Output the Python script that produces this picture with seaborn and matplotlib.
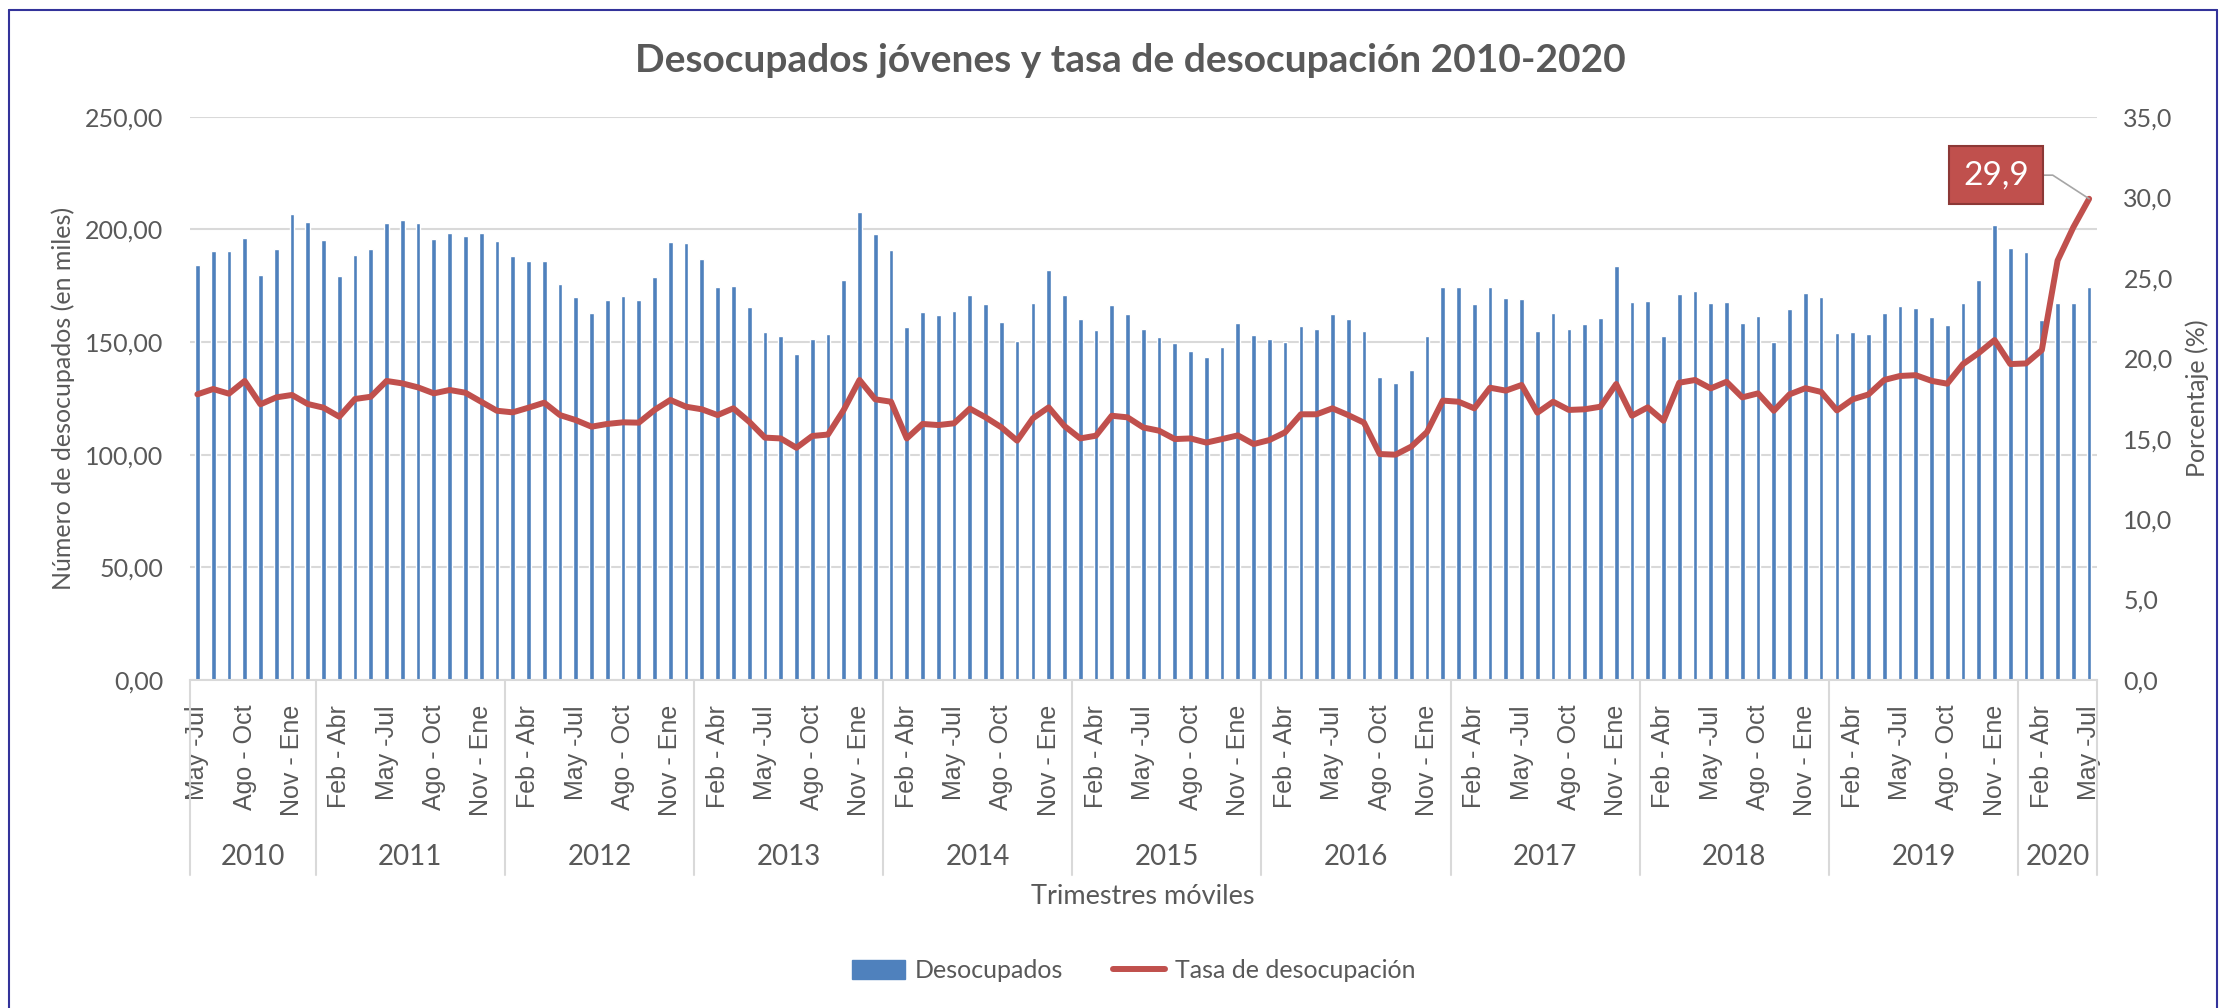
import numpy as np
import pandas as pd
import matplotlib
matplotlib.use("Agg")
import matplotlib.pyplot as plt
import seaborn as sns
from matplotlib.patches import Patch
from matplotlib.lines import Line2D
from matplotlib.ticker import FuncFormatter, MultipleLocator

# --- datos ---
anios = ["2010", "2011", "2012", "2013", "2014", "2015",
         "2016", "2017", "2018", "2019", "2020"]
periodos_por_anio = [8, 12, 12, 12, 12, 12, 12, 12, 12, 12, 5]
trimestres = ["Ene - Mar", "Feb - Abr", "Mar - May", "Abr - Jun", "May -Jul", "Jun - Ago",
              "Jul - Sep", "Ago - Oct", "Sep - Nov", "Oct - Dic", "Nov - Ene", "Dic - Feb"]
primer_trimestre = "May -Jul"

# desocupados jovenes (miles), un renglon por anio
desocupados = [
    184.2, 190.2, 190.4, 196.0, 179.7, 191.1, 206.7, 203.1,
    195.1, 179.1, 188.6, 191.4, 202.7, 204.1, 202.7, 195.7, 198.2, 196.9, 198.5, 194.7,
    188.0, 185.8, 185.9, 175.6, 169.8, 162.7, 168.5, 170.3, 168.8, 178.7, 194.5, 194.1,
    186.8, 174.4, 174.7, 165.5, 154.3, 152.7, 144.7, 151.5, 153.6, 177.5, 207.5, 197.9,
    190.7, 156.5, 163.3, 161.8, 163.8, 170.9, 166.9, 158.7, 150.4, 167.2, 182.0, 170.9,
    160.1, 155.3, 166.4, 162.6, 155.6, 152.1, 149.4, 145.9, 143.2, 147.6, 158.6, 153.1,
    151.3, 150.0, 157.0, 155.8, 162.4, 160.2, 155.0, 134.3, 131.8, 137.7, 152.5, 174.6,
    174.6, 166.7, 174.4, 169.4, 168.9, 155.0, 162.9, 155.9, 158.0, 160.5, 183.9, 167.6,
    168.2, 152.7, 171.5, 172.6, 167.3, 167.9, 158.6, 161.4, 150.2, 164.6, 171.7, 169.9,
    154.1, 154.3, 153.5, 163.0, 166.1, 165.0, 160.9, 157.7, 167.3, 177.6, 201.9, 191.6,
    189.9, 159.9, 167.3, 167.5, 174.5,
]

# tasa de desocupacion (%)
tasa = [
    17.75, 18.08, 17.79, 18.58, 17.13, 17.56, 17.71, 17.15,
    16.92, 16.36, 17.46, 17.60, 18.58, 18.43, 18.18, 17.81, 18.02, 17.85, 17.29, 16.73,
    16.63, 16.92, 17.23, 16.46, 16.15, 15.74, 15.91, 16.01, 15.99, 16.78, 17.40, 16.98,
    16.82, 16.46, 16.88, 16.05, 15.06, 15.01, 14.43, 15.16, 15.25, 16.78, 18.64, 17.44,
    17.29, 15.01, 15.91, 15.84, 15.95, 16.86, 16.32, 15.70, 14.87, 16.26, 16.94, 15.78,
    15.01, 15.18, 16.42, 16.32, 15.69, 15.49, 14.97, 15.01, 14.75, 14.97, 15.20, 14.66,
    14.91, 15.39, 16.51, 16.51, 16.88, 16.46, 15.99, 14.04, 14.00, 14.50, 15.41, 17.36,
    17.29, 16.88, 18.16, 17.98, 18.33, 16.61, 17.29, 16.78, 16.82, 16.98, 18.39, 16.42,
    16.94, 16.11, 18.47, 18.64, 18.12, 18.53, 17.56, 17.81, 16.73, 17.75, 18.13, 17.90,
    16.75, 17.44, 17.74, 18.64, 18.89, 18.94, 18.59, 18.41, 19.63, 20.32, 21.12, 19.63,
    19.67, 20.50, 26.06, 28.13, 29.90,
]

# --- armar la tabla ---
inicio = trimestres.index(primer_trimestre)
filas = []
k = 0
for anio, n in zip(anios, periodos_por_anio):
    for j in range(n):
        filas.append((anio, trimestres[(inicio + k) % 12]))
        k += 1
df = pd.DataFrame(filas, columns=["anio", "trimestre"])
df["periodo"] = df["anio"] + " " + df["trimestre"]
df["desocupados"] = desocupados
df["tasa"] = tasa
df["pos"] = np.arange(len(df))

# --- estilo ---
AZUL = "#4F81BD"
ROJO = "#C0504D"
GRIS_TXT = "#595959"
GRIS_LIN = "#D9D9D9"

sns.set_style("white")
plt.rcParams["font.family"] = ["Lato", "DejaVu Sans"]
plt.rcParams["text.color"] = GRIS_TXT

W, H = 2226, 1008
fig = plt.figure(figsize=(W / 100, H / 100), dpi=100)
x0, x1, y_top, y_bot = 189.5, 2097, 116.7, 680
ax = fig.add_axes([x0 / W, 1 - y_bot / H, (x1 - x0) / W, (y_bot - y_top) / H])

sns.barplot(data=df, x="periodo", y="desocupados", color=AZUL, width=0.3,
            saturation=1, errorbar=None, ax=ax, zorder=2)

ax2 = ax.twinx()
sns.lineplot(data=df, x="pos", y="tasa", color=ROJO, linewidth=4.3, ax=ax2,
             solid_capstyle="round", solid_joinstyle="round")

# ejes
ax.set_xlim(-0.5, len(df) - 0.5)
ax.set_ylim(0, 250)
ax2.set_ylim(0, 35)
ax.yaxis.set_major_locator(MultipleLocator(50))
ax2.yaxis.set_major_locator(MultipleLocator(5))
ax.yaxis.set_major_formatter(FuncFormatter(lambda v, p: f"{v:.2f}".replace(".", ",")))
ax2.yaxis.set_major_formatter(FuncFormatter(lambda v, p: f"{v:.1f}".replace(".", ",")))
ax.grid(axis="y", color=GRIS_LIN, linewidth=1.5)
ax.set_axisbelow(True)
ax.set_xlabel("")
ax.set_ylabel("")
ax2.set_ylabel("")
ax2.set_xlabel("")

for a in (ax, ax2):
    for s in ["top", "left", "right", "bottom"]:
        a.spines[s].set_visible(False)
ax.spines["bottom"].set_visible(True)
ax.spines["bottom"].set_color(GRIS_LIN)
ax.spines["bottom"].set_linewidth(1.5)

ax.tick_params(axis="y", length=0, pad=19, labelsize=18, labelcolor=GRIS_TXT)
ax2.tick_params(axis="y", length=0, pad=19, labelsize=18, labelcolor=GRIS_TXT)

# etiquetas de trimestre cada 3 periodos
ticks = df["pos"][::3]
ax.set_xticks(ticks)
ax.set_xticklabels(df["trimestre"][::3], rotation=90, va="top", ha="center",
                   fontsize=18, color=GRIS_TXT, family=["Liberation Sans", "DejaVu Sans"])
ax.tick_params(axis="x", length=0, pad=18)

# separadores de anio y etiquetas de anio
trans = ax.get_xaxis_transform()
bordes = np.concatenate([[0], np.cumsum(periodos_por_anio)]) - 0.5
sep_y = -(875 - y_bot) / (y_bot - y_top)
for b in bordes:
    ax.plot([b, b], [0, sep_y], transform=trans, color=GRIS_LIN, lw=1.5, clip_on=False)
anio_y = -(857 - y_bot) / (y_bot - y_top)
for anio, a, b in zip(anios, bordes[:-1], bordes[1:]):
    ax.text((a + b) / 2, anio_y, anio, transform=trans, ha="center", va="center",
            fontsize=20, color=GRIS_TXT)

# titulos
fig.text(1130 / W, 1 - 61 / H, "Desocupados jóvenes y tasa de desocupación 2010-2020",
         ha="center", va="center", fontsize=28, fontweight="bold", color=GRIS_TXT)
fig.text((x0 + x1) / 2 / W, 1 - 897 / H, "Trimestres móviles", ha="center", va="center",
         fontsize=19.5, color=GRIS_TXT)
fig.text(63 / W, 1 - 398 / H, "Número de desocupados (en miles)", rotation=90,
         ha="center", va="center", fontsize=18, color=GRIS_TXT)
fig.text(2197 / W, 1 - 398 / H, "Porcentaje (%)", rotation=90,
         ha="center", va="center", fontsize=18, color=GRIS_TXT)

# etiqueta del ultimo valor
ultimo = df.iloc[-1]
ax2.annotate(f"{ultimo['tasa']:.1f}".replace(".", ","), xy=(ultimo["pos"], ultimo["tasa"]),
             xytext=(-67, 17), textcoords="offset points", ha="center", va="center",
             fontsize=24, color="white",
             bbox=dict(boxstyle="square,pad=0.42", fc=ROJO, ec="#8C3836", lw=1.5),
             arrowprops=dict(arrowstyle="-", color="#A6A6A6", lw=1.2, shrinkA=0, shrinkB=0,
                             connectionstyle="angle,angleA=0,angleB=147,rad=0"))

# leyenda
handles = [Patch(color=AZUL, label="Desocupados"),
           Line2D([], [], color=ROJO, lw=4.3, solid_capstyle="round", label="Tasa de desocupación")]
fig.legend(handles=handles, loc="center", bbox_to_anchor=(1134 / W, 1 - 971 / H), ncol=2,
           frameon=False, fontsize=18, handlelength=2.1, handleheight=0.8,
           handletextpad=0.4, columnspacing=2.0, labelcolor=GRIS_TXT)

# marco del grafico
borde = "#33339A"
fig.add_artist(Line2D([9 / W, 9 / W], [0, 1 - 10 / H], color=borde, lw=1.5))
fig.add_artist(Line2D([9 / W, 2217 / W], [1 - 10 / H, 1 - 10 / H], color=borde, lw=1.5))
fig.add_artist(Line2D([2217 / W, 2217 / W], [0, 1 - 10 / H], color=borde, lw=1.5))

fig.savefig("out.png", dpi=100)
